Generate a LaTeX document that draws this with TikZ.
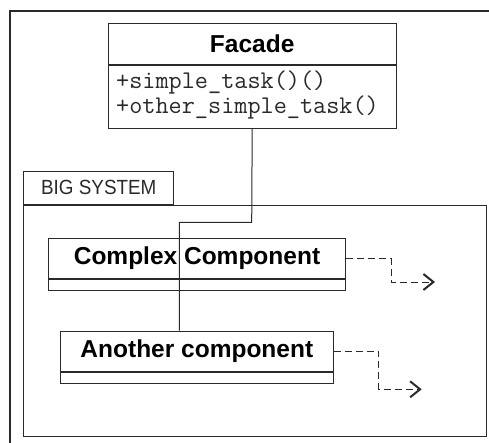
\documentclass[tikz,border=0pt]{standalone}
\usepackage{fontspec}
\setmainfont{Liberation Sans}
\usetikzlibrary{arrows.meta}
\definecolor{ink}{HTML}{2A2A2A}
\tikzset{
  box/.style={draw=ink, line width=1pt, inner sep=0pt, anchor=north west, text=black},
  title/.style={font=\fontsize{24.5}{24.5}\selectfont\bfseries},
  meth/.style={font=\fontsize{25.5}{25.5}\ttfamily, anchor=west, inner sep=0pt, text=ink},
  dep/.style={draw=ink, line width=1pt, dash pattern=on 7pt off 4pt, -{Straight Barb[length=10pt,width=16pt,line width=2pt]}},
  link/.style={draw=ink, line width=1pt},
}
\begin{document}
\begin{tikzpicture}[x=1pt,y=-1pt]
\useasboundingbox (0,0) rectangle (489,443);
% outer frame
\coordinate (fa) at (10,443);
\coordinate (fb) at (10,11);
\coordinate (fc) at (489,11);
\draw[ink, line width=2.6pt] (fa) -- (fb) -- (fc);
% facade
\node[box, title, minimum width=288pt, minimum height=40.4pt] (fhead) at (107.7,23.3) {Facade};
\node[box, minimum width=288pt, minimum height=63.3pt] (fbody) at (fhead.south west) {};
\node[meth] (m1) at (116,82) {+simple\_task()()};
\node[meth] (m2) at (116,107) {+other\_simple\_task()};
% big system
\node[box, minimum width=150pt, minimum height=32.7pt, font=\fontsize{20.5}{20.5}\selectfont, text=ink] (tab) at (23.3,171) {\scalebox{0.92}[1]{BIG SYSTEM}};
\node[box, minimum width=463pt, minimum height=231.3pt] (sys) at (tab.south west) {};
% complex component
\node[box, title, minimum width=297.6pt, minimum height=40.3pt] (chead) at (47.7,238) {Complex Component};
\node[box, minimum width=297.6pt, minimum height=11pt] (cbody) at (chead.south west) {};
% another component
\node[box, title, minimum width=272.7pt, minimum height=40pt] (ahead) at (60,330.7) {Another component};
\node[box, minimum width=272.7pt, minimum height=11.3pt] (abody) at (ahead.south west) {};
% connector
\coordinate (j1) at (251.7,222.3);
\coordinate (j2) at (179.3,222.3);
\draw[link] (fbody.south) -- (j1) -- (j2) -- (j2 |- ahead.north);
% dependencies
\coordinate (tc) at (435,282);
\coordinate (ta) at (421.7,389.3);
\draw[dep] (chead.east) -- ++(44.7,0) |- (tc);
\draw[dep] (ahead.east) -- ++(45,0) |- (ta);
\end{tikzpicture}
\end{document}
